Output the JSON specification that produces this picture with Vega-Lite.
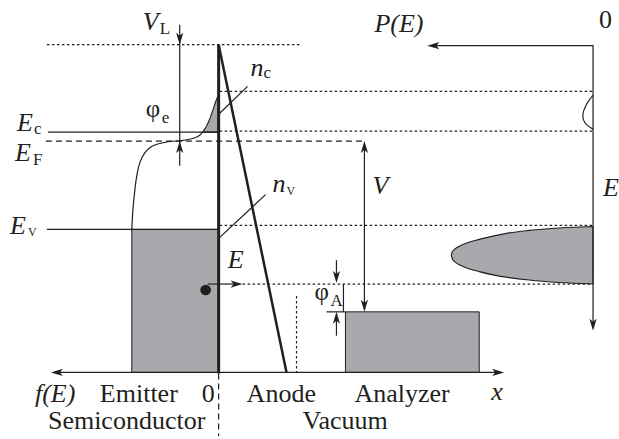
{
  "$schema": "https://vega.github.io/schema/vega-lite/v6.json",
  "width": 619,
  "height": 439,
  "padding": 0,
  "autosize": {"type": "fit", "contains": "padding"},
  "background": "white",
  "config": {"view": {"stroke": null}, "text": {"font": "'Liberation Serif', 'Times New Roman', Times, serif"}},
  "datasets": {
    "arrowheads": [
      {"x": 180, "y": 45, "dir": "down"},
      {"x": 180, "y": 142, "dir": "up"},
      {"x": 365, "y": 142, "dir": "up"},
      {"x": 365, "y": 314, "dir": "down"},
      {"x": 337, "y": 285, "dir": "down"},
      {"x": 337, "y": 314, "dir": "up"},
      {"x": 243, "y": 286, "dir": "right"},
      {"x": 51, "y": 375, "dir": "left"},
      {"x": 505, "y": 375, "dir": "right"},
      {"x": 428, "y": 46, "dir": "left"},
      {"x": 594, "y": 333, "dir": "down"}
    ]
  },
  "encoding": {
    "x": {"field": "x", "type": "quantitative", "scale": {"domain": [0, 619], "nice": false, "zero": false}, "axis": null},
    "y": {"field": "y", "type": "quantitative", "scale": {"domain": [0, 439], "nice": false, "zero": false, "reverse": true}, "axis": null}
  },
  "layer": [
    {
      "data": {"values": [
        {"name": "Emitter", "x": 132, "x2": 219, "y": 231, "y2": 375},
        {"name": "Analyzer", "x": 346, "x2": 480, "y": 314, "y2": 375}
      ]},
      "mark": {"type": "rect", "fill": "#a7a9ac", "stroke": "#231f20", "strokeWidth": 1},
      "encoding": {"x2": {"field": "x2"}, "y2": {"field": "y2"}}
    },
    {
      "data": {"values": [
        {"x": 452, "y": 257, "y2": 257},
        {"x": 453, "y": 253.5, "y2": 260.5},
        {"x": 456, "y": 250.5, "y2": 264},
        {"x": 460, "y": 248, "y2": 266.5},
        {"x": 468, "y": 244.5, "y2": 270},
        {"x": 480, "y": 241, "y2": 273.5},
        {"x": 495, "y": 237.5, "y2": 277},
        {"x": 510, "y": 234.5, "y2": 279.5},
        {"x": 530, "y": 232, "y2": 282},
        {"x": 560, "y": 229.5, "y2": 284.5},
        {"x": 594, "y": 228, "y2": 286}
      ]},
      "mark": {"type": "area", "orient": "vertical", "interpolate": "monotone", "fill": "#a7a9ac", "stroke": "#231f20", "strokeWidth": 1.1},
      "encoding": {"y2": {"field": "y2"}}
    },
    {
      "data": {"values": [
        {"x": 203, "y": 133, "y2": 133},
        {"x": 205, "y": 130, "y2": 133},
        {"x": 207, "y": 126.5, "y2": 133},
        {"x": 210, "y": 120, "y2": 133},
        {"x": 213, "y": 111.5, "y2": 133},
        {"x": 216, "y": 102.5, "y2": 133},
        {"x": 218.5, "y": 96, "y2": 133}
      ]},
      "mark": {"type": "area", "orient": "vertical", "interpolate": "monotone", "fill": "#a7a9ac", "stroke": "#231f20", "strokeWidth": 1.1},
      "encoding": {"y2": {"field": "y2"}}
    },
    {
      "data": {"values": [
        {"id": "top", "o": 0, "x": 47, "y": 45}, {"id": "top", "o": 1, "x": 300, "y": 45},
        {"id": "nc_top", "o": 0, "x": 220, "y": 92}, {"id": "nc_top", "o": 1, "x": 594, "y": 92},
        {"id": "nc_bot", "o": 0, "x": 220, "y": 132}, {"id": "nc_bot", "o": 1, "x": 594, "y": 132},
        {"id": "nv_top", "o": 0, "x": 220, "y": 227}, {"id": "nv_top", "o": 1, "x": 594, "y": 227},
        {"id": "E_lvl", "o": 0, "x": 243, "y": 286}, {"id": "E_lvl", "o": 1, "x": 594, "y": 286},
        {"id": "anode_v", "o": 0, "x": 297, "y": 298}, {"id": "anode_v", "o": 1, "x": 297, "y": 375}
      ]},
      "mark": {"type": "line", "color": "#231f20", "strokeWidth": 1.2, "strokeDash": [2.5, 2.5]},
      "encoding": {"detail": {"field": "id"}, "order": {"field": "o"}}
    },
    {
      "data": {"values": [
        {"id": "EF", "o": 0, "x": 46, "y": 142}, {"id": "EF", "o": 1, "x": 365, "y": 142},
        {"id": "zero", "o": 0, "x": 219, "y": 376}, {"id": "zero", "o": 1, "x": 219, "y": 439}
      ]},
      "mark": {"type": "line", "color": "#231f20", "strokeWidth": 1.2, "strokeDash": [6, 4]},
      "encoding": {"detail": {"field": "id"}, "order": {"field": "o"}}
    },
    {
      "data": {"values": [
        {"id": "Ec", "o": 0, "x": 48, "y": 133}, {"id": "Ec", "o": 1, "x": 219, "y": 133},
        {"id": "Ev", "o": 0, "x": 47, "y": 231}, {"id": "Ev", "o": 1, "x": 219, "y": 231},
        {"id": "VL", "o": 0, "x": 180, "y": 25}, {"id": "VL", "o": 1, "x": 180, "y": 167},
        {"id": "ncp", "o": 0, "x": 248, "y": 87}, {"id": "ncp", "o": 1, "x": 218, "y": 116},
        {"id": "nvp", "o": 0, "x": 266, "y": 196}, {"id": "nvp", "o": 1, "x": 219, "y": 240},
        {"id": "Earr", "o": 0, "x": 208, "y": 286}, {"id": "Earr", "o": 1, "x": 238, "y": 286},
        {"id": "axis", "o": 0, "x": 57, "y": 375}, {"id": "axis", "o": 1, "x": 499, "y": 375},
        {"id": "V", "o": 0, "x": 365, "y": 147}, {"id": "V", "o": 1, "x": 365, "y": 309},
        {"id": "phiA1", "o": 0, "x": 337, "y": 262}, {"id": "phiA1", "o": 1, "x": 337, "y": 280},
        {"id": "phiA2", "o": 0, "x": 337, "y": 338}, {"id": "phiA2", "o": 1, "x": 337, "y": 319},
        {"id": "phiA3", "o": 0, "x": 327, "y": 314}, {"id": "phiA3", "o": 1, "x": 346, "y": 314},
        {"id": "phiA4", "o": 0, "x": 344, "y": 286}, {"id": "phiA4", "o": 1, "x": 344, "y": 314},
        {"id": "Paxis", "o": 0, "x": 434, "y": 46}, {"id": "Paxis", "o": 1, "x": 594, "y": 46}, {"id": "Paxis", "o": 2, "x": 594, "y": 327}
      ]},
      "mark": {"type": "line", "color": "#231f20", "strokeWidth": 1.2},
      "encoding": {"detail": {"field": "id"}, "order": {"field": "o"}}
    },
    {
      "data": {"values": [
        {"id": "fermi", "o": 0, "x": 132, "y": 232},
        {"id": "fermi", "o": 1, "x": 133, "y": 213},
        {"id": "fermi", "o": 2, "x": 135, "y": 192},
        {"id": "fermi", "o": 3, "x": 137, "y": 177},
        {"id": "fermi", "o": 4, "x": 140, "y": 164},
        {"id": "fermi", "o": 5, "x": 145, "y": 154},
        {"id": "fermi", "o": 6, "x": 151, "y": 148},
        {"id": "fermi", "o": 7, "x": 158, "y": 145},
        {"id": "fermi", "o": 8, "x": 170, "y": 142.5},
        {"id": "fermi", "o": 9, "x": 182, "y": 141.5},
        {"id": "fermi", "o": 10, "x": 193, "y": 139.5},
        {"id": "fermi", "o": 11, "x": 199, "y": 137},
        {"id": "fermi", "o": 12, "x": 203, "y": 133},
        {"id": "peak", "o": 0, "x": 594, "y": 96},
        {"id": "peak", "o": 1, "x": 590, "y": 101},
        {"id": "peak", "o": 2, "x": 586.5, "y": 107},
        {"id": "peak", "o": 3, "x": 584, "y": 114},
        {"id": "peak", "o": 4, "x": 584.5, "y": 121},
        {"id": "peak", "o": 5, "x": 588, "y": 126},
        {"id": "peak", "o": 6, "x": 594, "y": 130}
      ]},
      "mark": {"type": "line", "color": "#231f20", "strokeWidth": 1.2, "interpolate": "catmull-rom"},
      "encoding": {"detail": {"field": "id"}, "order": {"field": "o"}}
    },
    {
      "data": {"values": [
        {"id": "emitter", "o": 0, "x": 219, "y": 45}, {"id": "emitter", "o": 1, "x": 219, "y": 376}
      ]},
      "mark": {"type": "line", "color": "#231f20", "strokeWidth": 3},
      "encoding": {"detail": {"field": "id"}, "order": {"field": "o"}}
    },
    {
      "data": {"values": [
        {"id": "anode", "o": 0, "x": 219, "y": 45}, {"id": "anode", "o": 1, "x": 287, "y": 375}
      ]},
      "mark": {"type": "line", "color": "#231f20", "strokeWidth": 2.5},
      "encoding": {"detail": {"field": "id"}, "order": {"field": "o"}}
    },
    {
      "data": {"name": "arrowheads"},
      "transform": [{"filter": "datum.dir === 'up'"}],
      "mark": {"type": "point", "shape": "M0,0L0.6,2L0,1.5L-0.6,2Z", "angle": 0, "filled": true, "color": "#231f20", "size": 144, "opacity": 1}
    },
    {
      "data": {"name": "arrowheads"},
      "transform": [{"filter": "datum.dir === 'right'"}],
      "mark": {"type": "point", "shape": "M0,0L0.6,2L0,1.5L-0.6,2Z", "angle": 90, "filled": true, "color": "#231f20", "size": 144, "opacity": 1}
    },
    {
      "data": {"name": "arrowheads"},
      "transform": [{"filter": "datum.dir === 'down'"}],
      "mark": {"type": "point", "shape": "M0,0L0.6,2L0,1.5L-0.6,2Z", "angle": 180, "filled": true, "color": "#231f20", "size": 144, "opacity": 1}
    },
    {
      "data": {"name": "arrowheads"},
      "transform": [{"filter": "datum.dir === 'left'"}],
      "mark": {"type": "point", "shape": "M0,0L0.6,2L0,1.5L-0.6,2Z", "angle": 270, "filled": true, "color": "#231f20", "size": 144, "opacity": 1}
    },
    {
      "data": {"values": [{"x": 206, "y": 292}]},
      "mark": {"type": "point", "shape": "circle", "filled": true, "color": "#231f20", "size": 115, "opacity": 1}
    },
    {
      "data": {"values": [
        {"x": 143, "y": 30, "t": "V"},
        {"x": 375, "y": 32, "t": "P(E)"},
        {"x": 17, "y": 132, "t": "E"},
        {"x": 15, "y": 162, "t": "E"},
        {"x": 10, "y": 236, "t": "E"},
        {"x": 251, "y": 77, "t": "n"},
        {"x": 273, "y": 193, "t": "n"},
        {"x": 228, "y": 270, "t": "E"},
        {"x": 373, "y": 195, "t": "V"},
        {"x": 604, "y": 197, "t": "E"},
        {"x": 35, "y": 405, "t": "f(E)"},
        {"x": 492, "y": 403, "t": "x"}
      ]},
      "mark": {"type": "text", "fontStyle": "italic", "fontSize": 26, "align": "left", "baseline": "alphabetic", "color": "#231f20"},
      "encoding": {"text": {"field": "t"}}
    },
    {
      "data": {"values": [
        {"x": 600, "y": 28, "t": "0"},
        {"x": 100, "y": 405, "t": "Emitter"},
        {"x": 202, "y": 405, "t": "0"},
        {"x": 247, "y": 405, "t": "Anode"},
        {"x": 355, "y": 405, "t": "Analyzer"},
        {"x": 48, "y": 432, "t": "Semiconductor"},
        {"x": 303, "y": 432, "t": "Vacuum"}
      ]},
      "mark": {"type": "text", "fontSize": 26, "align": "left", "baseline": "alphabetic", "color": "#231f20"},
      "encoding": {"text": {"field": "t"}}
    },
    {
      "data": {"values": [
        {"x": 146, "y": 118, "t": "φ"},
        {"x": 315, "y": 302, "t": "φ"}
      ]},
      "mark": {"type": "text", "fontSize": 25, "align": "left", "baseline": "alphabetic", "color": "#231f20"},
      "encoding": {"text": {"field": "t"}}
    },
    {
      "data": {"values": [
        {"x": 160, "y": 34, "t": "L"},
        {"x": 34, "y": 135, "t": "c"},
        {"x": 33, "y": 166, "t": "F"},
        {"x": 162, "y": 124, "t": "e"},
        {"x": 331, "y": 308, "t": "A"},
        {"x": 264, "y": 79, "t": "c"}
      ]},
      "mark": {"type": "text", "fontSize": 17, "align": "left", "baseline": "alphabetic", "color": "#231f20"},
      "encoding": {"text": {"field": "t"}}
    },
    {
      "data": {"values": [
        {"x": 28, "y": 238, "t": "V"},
        {"x": 287, "y": 196, "t": "V"}
      ]},
      "mark": {"type": "text", "fontSize": 12, "align": "left", "baseline": "alphabetic", "color": "#231f20"},
      "encoding": {"text": {"field": "t"}}
    }
  ]
}
